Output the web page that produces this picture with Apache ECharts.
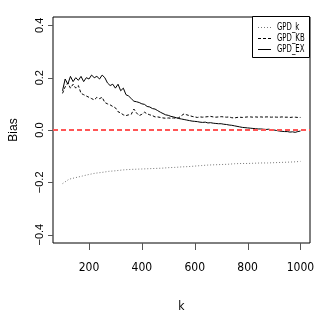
<!DOCTYPE html>
<html>
<head>
<meta charset="utf-8">
<script src="https://cdn.jsdelivr.net/npm/echarts@6/dist/echarts.min.js"></script>
<style>
  html, body { margin: 0; padding: 0; background: #fff; }
  #chart { width: 320px; height: 327px; }
</style>
</head>
<body>
<div id="chart"></div>
<script>
// k 取值 (GPD_KB, GPD_EX 每10一个点)
var kFine = [];
for (var k = 100; k <= 1000; k += 10) kFine.push(k);
// GPD_k 每25一个点
var kCoarse = [];
for (var k2 = 100; k2 <= 1000; k2 += 25) kCoarse.push(k2);

var biasK = [-0.205, -0.188, -0.182, -0.176, -0.170, -0.165, -0.162, -0.158, -0.156, -0.153,
  -0.151, -0.150, -0.149, -0.148, -0.147, -0.146, -0.144, -0.143, -0.141, -0.140,
  -0.138, -0.136, -0.134, -0.133, -0.132, -0.131, -0.129, -0.128, -0.128, -0.127,
  -0.126, -0.126, -0.125, -0.124, -0.123, -0.122, -0.120];

var biasKB = [0.140, 0.165, 0.180, 0.160, 0.175, 0.160, 0.170, 0.140, 0.135, 0.130,
  0.125, 0.120, 0.115, 0.125, 0.120, 0.125, 0.105, 0.100, 0.096, 0.090,
  0.085, 0.070, 0.065, 0.058, 0.055, 0.058, 0.060, 0.080, 0.065, 0.055,
  0.060, 0.068, 0.062, 0.058, 0.055, 0.050, 0.050, 0.048, 0.046, 0.045,
  0.046, 0.045, 0.046, 0.045, 0.047, 0.055, 0.062, 0.058, 0.055, 0.052,
  0.050, 0.048, 0.050, 0.049, 0.050, 0.051, 0.052, 0.050, 0.049, 0.050,
  0.051, 0.050, 0.049, 0.050, 0.047, 0.046, 0.048, 0.049, 0.048, 0.049,
  0.050, 0.050, 0.049, 0.050, 0.049, 0.050, 0.049, 0.050, 0.050, 0.049,
  0.050, 0.049, 0.049, 0.050, 0.049, 0.049, 0.048, 0.049, 0.049, 0.048,
  0.048];

var biasEX = [0.150, 0.195, 0.175, 0.205, 0.185, 0.200, 0.190, 0.205, 0.185, 0.200,
  0.195, 0.210, 0.200, 0.205, 0.195, 0.210, 0.200, 0.180, 0.170, 0.175,
  0.160, 0.175, 0.150, 0.160, 0.135, 0.130, 0.120, 0.110, 0.108, 0.105,
  0.100, 0.098, 0.090, 0.088, 0.082, 0.080, 0.074, 0.068, 0.063, 0.058,
  0.056, 0.052, 0.050, 0.047, 0.044, 0.042, 0.040, 0.038, 0.036, 0.034,
  0.033, 0.032, 0.030, 0.029, 0.030, 0.027, 0.028, 0.026, 0.025, 0.024,
  0.024, 0.022, 0.021, 0.019, 0.018, 0.016, 0.014, 0.012, 0.010, 0.009,
  0.008, 0.007, 0.006, 0.005, 0.004, 0.004, 0.003, 0.002, 0.003, 0.001,
  0.000, -0.002, -0.004, -0.005, -0.006, -0.006, -0.008, -0.007, -0.009, -0.006,
  -0.004];

var xTicks = [200, 400, 600, 800, 1000];
var yTicks = [-0.4, -0.2, 0, 0.2, 0.4];
var seriesNames = ['GPD_k', 'GPD_KB', 'GPD_EX'];

var xMin = 64, xMax = 1036, yMin = -0.432, yMax = 0.432;

function pairs(xs, ys) {
  return xs.map(function (x, i) { return [x, ys[i]]; });
}

(function () {
  var myChart = echarts.init(document.getElementById('chart'));
  var narrow = '"Liberation Sans Narrow", "DejaVu Sans Condensed", sans-serif';
  var lineStyles = [
    { stroke: '#777', lineWidth: 1, lineDash: [1, 2] },
    { stroke: '#000', lineWidth: 1, lineDash: [3, 2] },
    { stroke: '#000', lineWidth: 1 }
  ];
  // 图例 自己画
  var legendItems = [{
    type: 'rect', shape: { x: 252.5, y: 16.5, width: 57, height: 41 },
    style: { fill: '#fff', stroke: '#000', lineWidth: 1 }, z: 100
  }];
  seriesNames.forEach(function (name, i) {
    var y = 27 + i * 11;
    legendItems.push({
      type: 'line', shape: { x1: 258, y1: y + 0.5, x2: 271, y2: y + 0.5 },
      style: lineStyles[i], z: 101
    });
    legendItems.push({
      type: 'text', x: 277, y: y, z: 101, scaleX: 0.7,
      style: { text: name, fill: '#000', font: '11px ' + narrow, verticalAlign: 'middle' }
    });
  });

  var option = {
    animation: false,
    graphic: legendItems,
    grid: {
      left: 41, top: 17, right: 10, bottom: 84,
      show: true, borderColor: '#000', borderWidth: 1
    },
    xAxis: {
      type: 'value',
      min: xMin, max: xMax,
      name: 'k',
      nameLocation: 'middle',
      nameGap: 58,
      nameTextStyle: { color: '#000', fontSize: 12, fontFamily: narrow },
      axisLine: { show: false, onZero: false },
      axisTick: { show: false },
      axisLabel: {
        customValues: xTicks, color: '#000', fontSize: 12, fontFamily: narrow, margin: 19,
        formatter: function (v) { return String(v); }
      },
      splitLine: { show: false }
    },
    yAxis: {
      type: 'value',
      min: yMin, max: yMax,
      name: 'Bias',
      nameLocation: 'middle',
      nameRotate: 90,
      nameGap: 33,
      nameTextStyle: { color: '#000', fontSize: 12, fontFamily: 'Liberation Sans, sans-serif' },
      axisLine: { show: false, onZero: false },
      axisTick: { show: false },
      axisLabel: {
        customValues: yTicks, rotate: 90, color: '#000', fontSize: 11, margin: 8,
        fontFamily: 'Liberation Sans, sans-serif',
        formatter: function (v) { return v.toFixed(1).replace('-', '\u2212'); }
      },
      splitLine: { show: false }
    },
    series: [
      {
        name: 'GPD_k', type: 'line', symbol: 'none',
        data: pairs(kCoarse, biasK),
        lineStyle: { color: '#777', width: 1, type: [1, 2] }
      },
      {
        name: 'GPD_KB', type: 'line', symbol: 'none',
        data: pairs(kFine, biasKB),
        lineStyle: { color: '#000', width: 1, type: [3, 2] }
      },
      {
        name: 'GPD_EX', type: 'line', symbol: 'none',
        data: pairs(kFine, biasEX),
        lineStyle: { color: '#000', width: 1 },
        markLine: {
          silent: true, symbol: 'none', label: { show: false },
          lineStyle: { color: '#ff5555', width: 2, type: [5, 3] },
          data: [{ yAxis: 0 }]
        }
      }
    ]
  };
  myChart.setOption(option);

  // 刻度线: 位置由坐标轴换算
  var tickItems = [];
  xTicks.forEach(function (v) {
    var p = myChart.convertToPixel({ gridIndex: 0 }, [v, yMin]);
    var x = Math.round(p[0]) + 0.5, y = Math.round(p[1]);
    tickItems.push({
      type: 'line', z: 50,
      shape: { x1: x, y1: y, x2: x, y2: y + 7 },
      style: { stroke: '#555', lineWidth: 1 }
    });
  });
  yTicks.forEach(function (v) {
    var p = myChart.convertToPixel({ gridIndex: 0 }, [xMin, v]);
    var x = Math.round(p[0]), y = Math.round(p[1]) + 0.5;
    tickItems.push({
      type: 'line', z: 50,
      shape: { x1: x - 5, y1: y, x2: x, y2: y },
      style: { stroke: '#555', lineWidth: 1 }
    });
  });
  myChart.setOption({ graphic: legendItems.concat(tickItems) });

  window.addEventListener('resize', function () {
    myChart.resize();
  });
})();
</script>
</body>
</html>
